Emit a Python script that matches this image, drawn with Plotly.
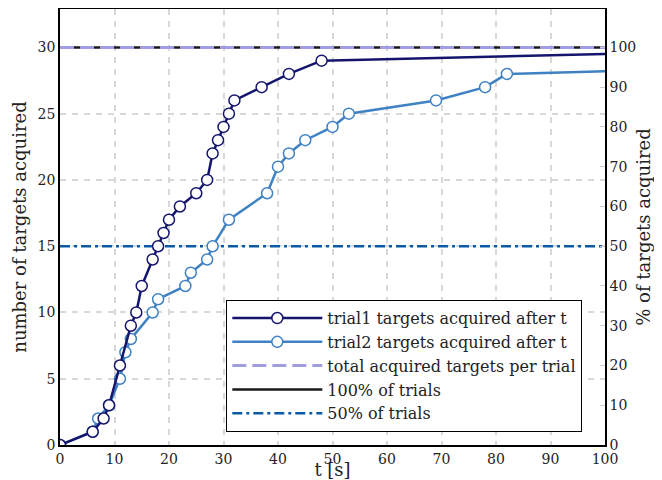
import plotly.graph_objects as go

# ---- data ----
t1 = [0, 6, 8, 9, 11, 13, 14, 15, 17, 18, 19, 20, 22, 25, 27, 28, 29, 30, 31, 32, 37, 42, 48]
n1 = [0, 1, 2, 3, 6, 9, 10, 12, 14, 15, 16, 17, 18, 19, 20, 22, 23, 24, 25, 26, 27, 28, 29]
t1_tail = [48, 100]
n1_tail = [29, 29.5]

t2 = [0, 6, 7, 9, 11, 12, 13, 17, 18, 23, 24, 27, 28, 31, 38, 40, 42, 45, 50, 53, 69, 78, 82]
n2 = [0, 1, 2, 3, 5, 7, 8, 10, 11, 12, 13, 14, 15, 17, 19, 21, 22, 23, 24, 25, 26, 27, 28]
t2_tail = [82, 100]
n2_tail = [28, 28.2]

total_targets = 30
half_targets = 15
x_span = [0, 100]

x_ticks = [0, 10, 20, 30, 40, 50, 60, 70, 80, 90, 100]
y_ticks = [0, 5, 10, 15, 20, 25, 30]
pct_ticks = [0, 10, 20, 30, 40, 50, 60, 70, 80, 90, 100]

C1 = "#15156e"
C2 = "#3f82c4"
LAV = "#a09ee0"
BLK = "#1a1a1a"
HALF = "#0a5aa6"
FONT = "'DejaVu Serif', serif"
F_TICK = dict(family=FONT, size=14, color="#222")
F_LEG = dict(family=FONT, size=16, color="#222")
F_TITLE = dict(family=FONT, size=18, color="#222")

fig = go.Figure()

# reference lines
fig.add_trace(go.Scatter(x=x_span, y=[total_targets]*2, mode="lines",
                         line=dict(color=BLK, width=2.5), name="100% of trials",
                         legendrank=4))
fig.add_trace(go.Scatter(x=x_span, y=[total_targets]*2, mode="lines",
                         line=dict(color=LAV, width=3, dash="14px,6px"),
                         name="total acquired targets per trial", legendrank=3))
fig.add_trace(go.Scatter(x=x_span, y=[half_targets]*2, mode="lines",
                         line=dict(color=HALF, width=2.5, dash="10px,4px,3px,4px"),
                         name="50% of trials", legendrank=5))

# tails
fig.add_trace(go.Scatter(x=t1_tail, y=n1_tail, mode="lines",
                         line=dict(color=C1, width=2.5), showlegend=False))
fig.add_trace(go.Scatter(x=t2_tail, y=n2_tail, mode="lines",
                         line=dict(color=C2, width=2.5), showlegend=False))

# trial2 then trial1 (trial1 on top)
fig.add_trace(go.Scatter(x=t2, y=n2, mode="lines+markers",
                         line=dict(color=C2, width=2.5),
                         marker=dict(symbol="circle", size=11, color="white",
                                     line=dict(color=C2, width=1.5)),
                         name="trial2 targets acquired after t", legendrank=2))
fig.add_trace(go.Scatter(x=t1, y=n1, mode="lines+markers",
                         line=dict(color=C1, width=2.5),
                         marker=dict(symbol="circle", size=11, color="white",
                                     line=dict(color=C1, width=1.5)),
                         name="trial1 targets acquired after t", legendrank=1))

# dummy trace for right axis
fig.add_trace(go.Scatter(x=[None], y=[None], yaxis="y2", showlegend=False))

fig.update_layout(
    width=654, height=472,
    margin=dict(l=52, r=57, t=1, b=35, autoexpand=False),
    paper_bgcolor="white", plot_bgcolor="white",
    font=F_TICK,
    xaxis=dict(range=[0, 100], tickvals=x_ticks, showgrid=True,
               gridcolor="#d8d8d8", griddash="6px,6px", gridwidth=1.5,
               showline=True, linecolor="black", linewidth=1.5, mirror=True,
               zeroline=False, ticks="", automargin=False,
               tickfont=F_TICK, ticklabelstandoff=0,
               title=dict(text="t [s]", standoff=0, font=F_TITLE)),
    yaxis=dict(range=[0, 32.9], tickvals=y_ticks, showgrid=True,
               gridcolor="#d8d8d8", griddash="6px,6px", gridwidth=1.5,
               showline=True, linecolor="black", linewidth=1.5,
               zeroline=False, ticks="", automargin=False, tickfont=F_TICK,
               title=dict(text="number of targets acquired", standoff=6, font=F_TITLE)),
    yaxis2=dict(range=[0, 109.67], tickvals=pct_ticks, overlaying="y", side="right",
                showgrid=False, showline=True, linecolor="black", linewidth=1.5,
                zeroline=False, ticks="inside", ticklen=5, tickcolor="#cccccc",
                automargin=False, tickfont=F_TICK,
                title=dict(text="% of targets acquired", standoff=2, font=F_TITLE)),
    legend=dict(x=0.958, y=0.03, xanchor="right", yanchor="bottom",
                bgcolor="white", bordercolor="black", borderwidth=1.2,
                font=F_LEG, tracegroupgap=0, itemwidth=90),
    showlegend=True,
)

fig.write_html("out.html")
